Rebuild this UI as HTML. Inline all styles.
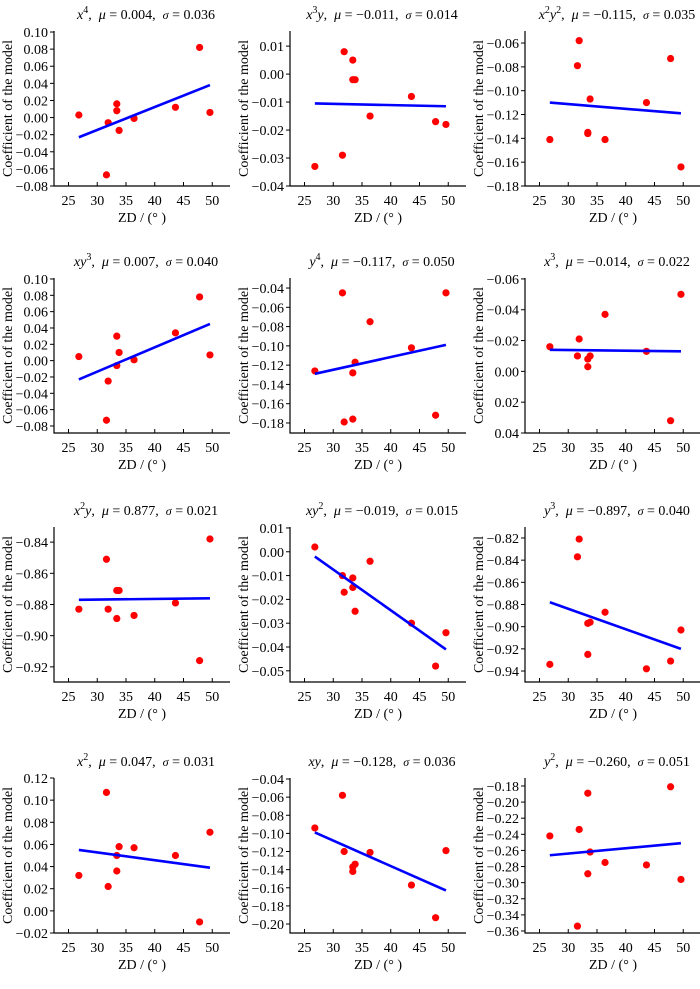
<!DOCTYPE html>
<html><head><meta charset="utf-8"><style>
html,body{margin:0;padding:0;background:#fff}
svg, svg text{font-family:"Liberation Serif","Times New Roman",serif}
</style></head><body>
<svg id="fig" width="700" height="984" viewBox="0 0 700 984" font-family="Liberation Serif, serif" xmlns="http://www.w3.org/2000/svg"></svg>
<script>
// shared x data (ZD, degrees)
const zd = [26.8, 31.6, 31.9, 33.4, 33.4, 33.8, 36.4, 43.6, 47.8, 49.6];
const xTicks = [25, 30, 35, 40, 45, 50];
// panel titles: [base, superscript] pairs
const terms = [
  [["x","4"]], [["x","3"],["y",""]], [["x","2"],["y","2"]],
  [["xy","3"]], [["y","4"]], [["x","3"]],
  [["x","2"],["y",""]], [["xy","2"]], [["y","3"]],
  [["x","2"]], [["xy",""]], [["y","2"]]
];
const mus = ["0.004","−0.011","−0.115","0.007","−0.117","−0.014","0.877","−0.019","−0.897","0.047","−0.128","−0.260"];
const sigmas = ["0.036","0.014","0.035","0.040","0.050","0.022","0.021","0.015","0.040","0.031","0.036","0.051"];
// y values per panel
const yP1 = [0.003,-0.067,-0.006,0.016,0.008,-0.015,-0.001,0.012,0.082,0.006];
const yP2 = [-0.033,-0.029,0.008,0.005,-0.002,-0.002,-0.015,-0.008,-0.017,-0.018];
const yP3 = [-0.141,-0.079,-0.058,-0.135,-0.136,-0.107,-0.141,-0.110,-0.073,-0.164];
const yP4 = [0.005,-0.073,-0.025,0.030,-0.006,0.010,0.001,0.034,0.078,0.007];
const yP5 = [-0.126,-0.045,-0.179,-0.176,-0.128,-0.117,-0.075,-0.102,-0.172,-0.045];
const yP6 = [-0.016,-0.010,-0.021,-0.003,-0.008,-0.010,-0.037,-0.013,0.032,-0.050];
const yP7 = [-0.883,-0.851,-0.883,-0.889,-0.871,-0.871,-0.887,-0.879,-0.916,-0.838];
const yP8 = [0.002,-0.010,-0.017,-0.011,-0.015,-0.025,-0.004,-0.030,-0.048,-0.034];
const yP9 = [-0.934,-0.837,-0.821,-0.897,-0.925,-0.896,-0.887,-0.938,-0.931,-0.903];
const yP10 = [0.032,0.107,0.022,0.050,0.036,0.058,0.057,0.050,-0.010,0.071];
const yP11 = [-0.094,-0.058,-0.120,-0.142,-0.137,-0.134,-0.121,-0.157,-0.193,-0.119];
const yP12 = [-0.242,-0.354,-0.234,-0.189,-0.289,-0.262,-0.275,-0.278,-0.181,-0.296];
const ys = [yP1,yP2,yP3,yP4,yP5,yP6,yP7,yP8,yP9,yP10,yP11,yP12];
// fit line values at x=26.8 and x=49.6
const fitStart = [-0.023,-0.0105,-0.110,-0.023,-0.129,-0.014,-0.877,-0.002,-0.878,0.055,-0.099,-0.266];
const fitEnd   = [0.038,-0.0115,-0.119,0.045,-0.099,-0.013,-0.876,-0.041,-0.920,0.039,-0.163,-0.251];
const fitX = [26.8, 49.6];
// y domain (value at plot top, value at plot bottom)
const yTop    = [0.1012,0.0154,-0.0499,0.1012,-0.0296,-0.0606,-0.8303,0.0104,-0.8101,0.12,-0.0389,-0.1701];
const yBottom = [-0.08,-0.04,-0.18,-0.0886,-0.1904,0.04,-0.9297,-0.0547,-0.9499,-0.02,-0.2099,-0.3625];
// y tick labels per panel
const yTicksP = [
 [0.10,0.08,0.06,0.04,0.02,0.00,-0.02,-0.04,-0.06,-0.08],
 [0.01,0.00,-0.01,-0.02,-0.03,-0.04],
 [-0.06,-0.08,-0.10,-0.12,-0.14,-0.16,-0.18],
 [0.10,0.08,0.06,0.04,0.02,0.00,-0.02,-0.04,-0.06,-0.08],
 [-0.04,-0.06,-0.08,-0.10,-0.12,-0.14,-0.16,-0.18],
 [-0.06,-0.04,-0.02,0.00,0.02,0.04],
 [-0.84,-0.86,-0.88,-0.90,-0.92],
 [0.01,0.00,-0.01,-0.02,-0.03,-0.04,-0.05],
 [-0.82,-0.84,-0.86,-0.88,-0.90,-0.92,-0.94],
 [0.12,0.10,0.08,0.06,0.04,0.02,0.00,-0.02],
 [-0.04,-0.06,-0.08,-0.10,-0.12,-0.14,-0.16,-0.18,-0.20],
 [-0.18,-0.20,-0.22,-0.24,-0.26,-0.28,-0.30,-0.32,-0.34,-0.36]
];

const svg = document.getElementById('fig');
const NS = 'http://www.w3.org/2000/svg';
const FONT = '"Liberation Serif", serif';
const colLeft = [54, 290, 525];
const rowTop = [31, 278, 527, 778];
const PH = 155, PW = 176;
const NB = '\u00a0';
function mk(tag, attrs, parent){ const e=document.createElementNS(NS,tag); for(const k in attrs) e.setAttribute(k,attrs[k]); parent.appendChild(e); return e; }
function fmt(v){ const s=Math.abs(v).toFixed(2); return (v< -1e-9? '−':'')+s; }

for (let p=0;p<12;p++){
  const L = colLeft[p%3], T = rowTop[Math.floor(p/3)], B = T+PH;
  const sx = v => L + 14.5 + (v-25)*5.75;
  const sy = v => T + (v - yTop[p])/(yBottom[p]-yTop[p])*PH;
  const g = mk('g',{'font-family':FONT},svg);
  
  
  const ax = mk('path',{d:`M${L},${T} V${B} H${L+PW}`,fill:'none',stroke:'#000','stroke-width':1.2},g);
  
  
  xTicks.forEach(t=>{
    const x=sx(t);
    mk('line',{x1:x,x2:x,y1:B,y2:B-4,stroke:'#000','stroke-width':1},g);
    const tx=mk('text',{x:x,y:B+19,'text-anchor':'middle','font-size':14},g);
    tx.textContent=t;
    
    
  });
  yTicksP[p].forEach(t=>{
    const y=sy(t);
    mk('line',{x1:L,x2:L-4,y1:y,y2:y,stroke:'#000','stroke-width':1},g);
    const ty=mk('text',{x:L-6,y:y+5,'text-anchor':'end','font-size':14},g);
    ty.textContent=fmt(t);
    
    
  });
  const yt=mk('text',{x:0,y:0,'text-anchor':'middle','font-size':14,transform:`translate(${L-42},${T+PH/2}) rotate(-90)`},g);
  yt.textContent='Coefficient of the model';
  
  
  const xt=mk('text',{x:L+88,y:B+36,'text-anchor':'middle','font-size':14},g);
  xt.textContent='ZD / (°'+NB+')';
  
  
  const tt=mk('text',{x:L+92,y:T-12,'text-anchor':'middle','font-size':14},g);
  
  
  let pendingDy = 0;
  terms[p].forEach(([base,sup])=>{
    const s=mk('tspan',{'font-style':'italic'},tt); s.textContent=base;
    if(pendingDy){ s.setAttribute('dy',pendingDy); pendingDy=0; }
    if(sup){ const u=mk('tspan',{'font-size':10,dy:-6},tt); u.textContent=sup; pendingDy=6; }
  });
  const a=mk('tspan',{},tt); a.textContent=','+NB+NB;
  if(pendingDy){ a.setAttribute('dy',pendingDy); }
  const m=mk('tspan',{'font-style':'italic'},tt); m.textContent='μ';
  const b=mk('tspan',{},tt); b.textContent=NB+'='+NB+mus[p]+','+NB+NB;
  const s=mk('tspan',{'font-style':'italic','font-size':12},tt); s.textContent='σ';
  const c=mk('tspan',{},tt); c.textContent=NB+'='+NB+sigmas[p];
  zd.forEach((x,i)=>{
    const pt=mk('circle',{cx:sx(x),cy:sy(ys[p][i]),r:3.6,fill:'#ff0000'},g);
    
    
  });
  const fl=mk('line',{x1:sx(fitX[0]),y1:sy(fitStart[p]),x2:sx(fitX[1]),y2:sy(fitEnd[p]),stroke:'#0000ff','stroke-width':2.6},g);
  
  
}
</script>
</body></html>
